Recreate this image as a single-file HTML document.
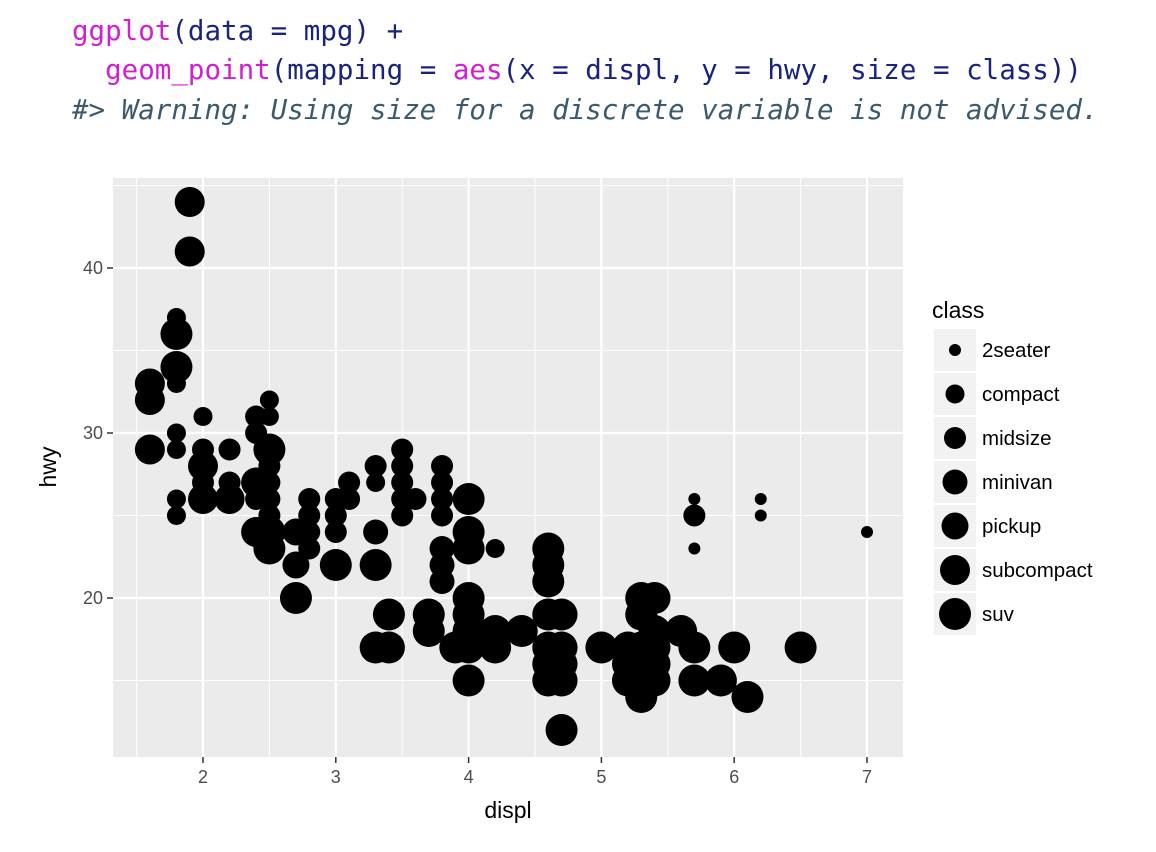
<!DOCTYPE html>
<html><head><meta charset="utf-8"><style>
body{margin:0;background:#fff;width:1156px;height:852px;overflow:hidden}
.code{position:absolute;left:72px;font-family:"DejaVu Sans Mono","Liberation Mono",monospace;font-size:27.5px;white-space:pre;color:#1a237e}
.m{color:#d21fd2}
.c{color:#3d5a6c;font-style:italic}
</style></head><body>
<div class="code" style="top:15px"><span class="m">ggplot</span>(data = mpg) +</div>
<div class="code" style="top:54px">  <span class="m">geom_point</span>(mapping = <span class="m">aes</span>(x = displ, y = hwy, size = class))</div>
<div class="code c" style="top:94px">#&gt; Warning: Using size for a discrete variable is not advised.</div>
<svg id="chart" width="1156" height="852" style="position:absolute;left:0;top:0"></svg>
<script>
const xTicks=[2,3,4,5,6,7];
const yTicks=[20,30,40];
const classNames=['2seater','compact','midsize','minivan','pickup','subcompact','suv'];
const classRadius=[6,9.5,11,12.5,13.5,15,16];
const displ=[1.9,1.9,1.8,1.8,1.8,1.8,1.6,1.6,1.6,1.8,1.8,1.8,1.8,2.0,2.0,2.0,2.0,2.0,2.2,2.2,2.2,2.4,2.4,2.4,2.4,2.4,2.5,2.5,2.5,2.5,2.5,2.5,2.5,2.5,2.5,2.7,2.7,2.7,2.8,2.8,2.8,2.8,3.0,3.0,3.0,3.0,3.1,3.1,3.3,3.3,3.3,3.3,3.3,3.4,3.4,3.5,3.5,3.5,3.5,3.5,3.6,3.7,3.7,3.8,3.8,3.8,3.8,3.8,3.8,3.8,3.9,4.0,4.0,4.0,4.0,4.0,4.0,4.0,4.0,4.2,4.2,4.2,4.4,4.6,4.6,4.6,4.6,4.6,4.6,4.6,4.7,4.7,4.7,4.7,4.7,5.0,5.2,5.2,5.2,5.3,5.3,5.3,5.3,5.3,5.3,5.4,5.4,5.4,5.4,5.4,5.7,5.7,5.7,5.6,5.7,5.7,5.9,6.0,6.1,6.2,6.2,6.5,7.0];
const hwy=[44,41,37,36,34,33,33,32,29,30,29,26,25,31,29,28,27,26,29,27,26,31,30,27,26,24,32,31,29,28,27,26,25,24,23,24,22,20,26,25,24,23,26,25,24,22,27,26,28,27,24,22,17,19,17,29,28,27,26,25,26,19,18,28,27,26,25,23,22,21,17,26,24,23,20,19,18,17,15,18,17,23,18,23,22,21,19,17,16,15,19,17,16,15,12,17,17,16,15,20,19,17,16,15,14,20,18,17,16,15,26,23,25,18,17,15,15,17,14,26,25,17,24];
const cls=[5,5,1,6,6,1,5,5,5,1,1,1,1,1,2,5,2,5,2,2,5,2,2,5,2,5,1,1,6,2,2,2,2,6,6,4,4,6,2,2,2,2,2,2,2,6,2,2,2,1,3,6,6,6,6,2,2,2,2,2,2,6,6,2,2,2,2,3,3,3,6,6,6,6,6,6,6,6,6,6,6,1,6,6,6,6,6,6,6,6,6,6,6,6,6,6,6,6,6,6,6,6,6,6,6,6,6,6,6,6,0,0,2,6,6,6,6,6,6,0,0,6,0];
const NS='http://www.w3.org/2000/svg';
const svg=document.getElementById('chart');
const PL=113,PR=903,PT=178,PB=757;
const xs=v=>203+(v-2)*132.8;
const ys=v=>598-(v-20)*16.5;
function mk(t,a,p){const e=document.createElementNS(NS,t);for(const k in a)e.setAttribute(k,a[k]);(p||svg).appendChild(e);return e;}
const panel=mk('rect',{x:PL,y:PT,width:PR-PL,height:PB-PT,fill:'#ebebeb'});


[1.5,2.5,3.5,4.5,5.5,6.5].forEach(v=>{const l=mk('line',{x1:xs(v),x2:xs(v),y1:PT,y2:PB,stroke:'#fff','stroke-width':1});

});
[15,25,35,45].forEach(v=>{const l=mk('line',{x1:PL,x2:PR,y1:ys(v),y2:ys(v),stroke:'#fff','stroke-width':1});

});
xTicks.forEach(v=>{const l=mk('line',{x1:xs(v),x2:xs(v),y1:PT,y2:PB,stroke:'#fff','stroke-width':2.2});


const tk=mk('line',{x1:xs(v),x2:xs(v),y1:PB,y2:PB+6,stroke:'#333','stroke-width':1.5});


const t=mk('text',{x:xs(v),y:PB+26,'text-anchor':'middle','font-size':18,fill:'#4d4d4d','font-family':'Liberation Sans, sans-serif'});t.textContent=v;

});
yTicks.forEach(v=>{const l=mk('line',{x1:PL,x2:PR,y1:ys(v),y2:ys(v),stroke:'#fff','stroke-width':2.2});


const tk=mk('line',{x1:PL-6,x2:PL,y1:ys(v),y2:ys(v),stroke:'#333','stroke-width':1.5});


const t=mk('text',{x:PL-10,y:ys(v)+6,'text-anchor':'end','font-size':18,fill:'#4d4d4d','font-family':'Liberation Sans, sans-serif'});t.textContent=v;

});
displ.forEach((d,i)=>{const c=mk('circle',{cx:xs(d),cy:ys(hwy[i]),r:classRadius[cls[i]],fill:'#000'});

});
const xt=mk('text',{x:(PL+PR)/2,y:818,'text-anchor':'middle','font-size':23,fill:'#000','font-family':'Liberation Sans, sans-serif'});xt.textContent='displ';


const yt=mk('text',{x:0,y:0,'text-anchor':'middle','font-size':23,fill:'#000','font-family':'Liberation Sans, sans-serif',transform:'translate(56,467) rotate(-90)'});yt.textContent='hwy';


const lt=mk('text',{x:932,y:318,'font-size':23,fill:'#000','font-family':'Liberation Sans, sans-serif'});lt.textContent='class';


classNames.forEach((n,i)=>{const y=350+i*44;
const b=mk('rect',{x:934,y:y-21,width:42,height:42,fill:'#f2f2f2'});


const c=mk('circle',{cx:955,cy:y,r:classRadius[i],fill:'#000'});


const t=mk('text',{x:982,y:y+7,'font-size':20.5,fill:'#000','font-family':'Liberation Sans, sans-serif'});t.textContent=n;

});
</script>
</body></html>
